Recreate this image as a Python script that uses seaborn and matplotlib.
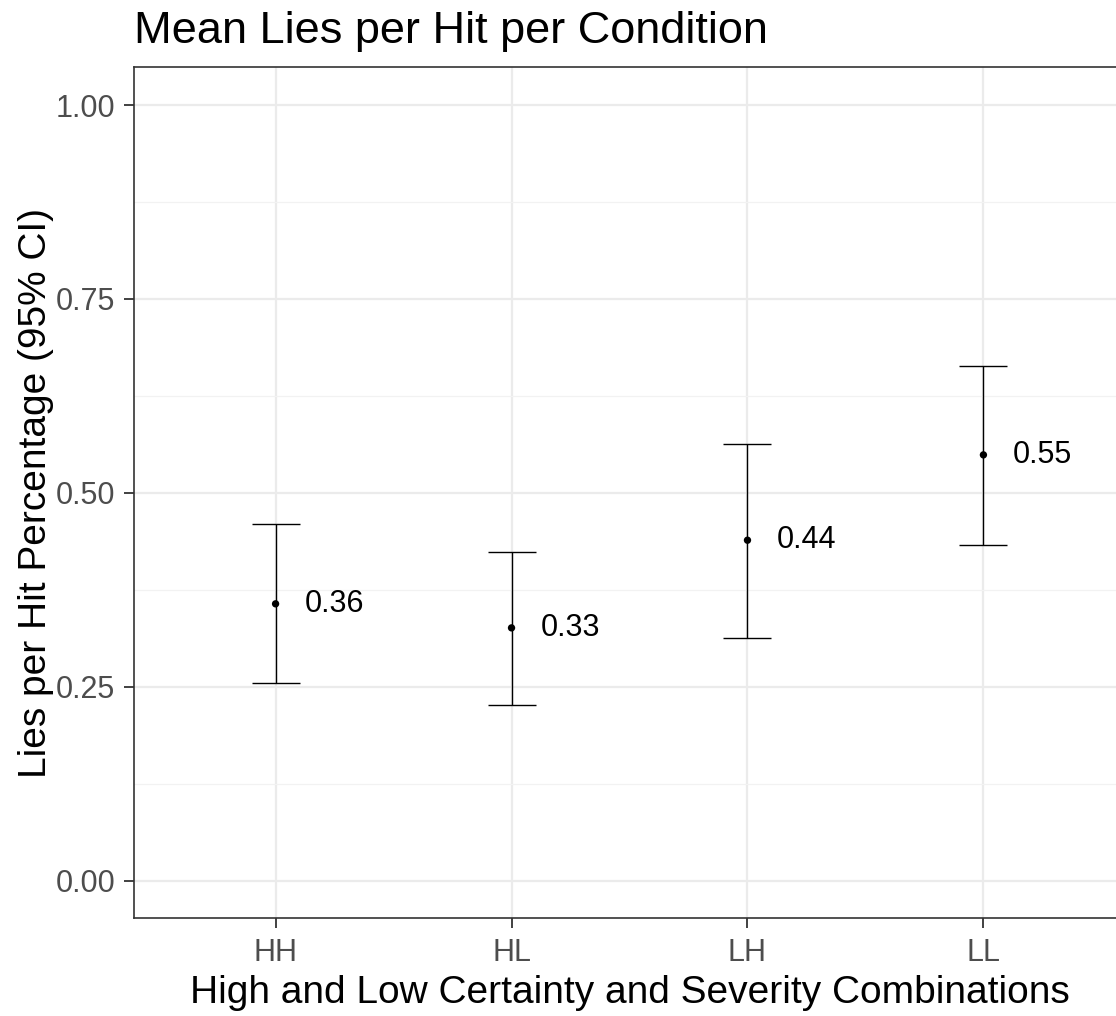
import matplotlib
matplotlib.use("Agg")
import matplotlib.pyplot as plt
import seaborn as sns
import pandas as pd

conditions = ["HH", "HL", "LH", "LL"]
means = [0.357, 0.326, 0.439, 0.549]
ci_low = [0.255, 0.226, 0.313, 0.433]
ci_high = [0.460, 0.424, 0.563, 0.664]
labels = ["0.36", "0.33", "0.44", "0.55"]

df = pd.DataFrame({"cond": conditions, "mean": means, "lo": ci_low, "hi": ci_high, "lab": labels})

sns.set_theme(style="white")
plt.rcParams['font.family'] = ['Liberation Sans', 'DejaVu Sans']

W, H = 1116, 1016
fig = plt.figure(figsize=(W / 100, H / 100), dpi=100)
ax = fig.add_axes([134 / W, 1 - 918 / H, (1125 - 134) / W, (918 - 67) / H])

grid_major = "#EBEBEB"
ax.set_axisbelow(True)

sns.scatterplot(data=df, x="cond", y="mean", ax=ax, color="black", s=28, zorder=3, edgecolor="none")
xpos = list(range(len(df)))
ax.errorbar(xpos, df["mean"],
            yerr=[df["mean"] - df["lo"], df["hi"] - df["mean"]],
            fmt="none", ecolor="black", elinewidth=1.0, capsize=17, capthick=1.0, zorder=2)
for x, y, t in zip(xpos, df["mean"], df["lab"]):
    ax.text(x + 0.125, y, t, ha="left", va="center", fontsize=22, color="black")

ax.set_xlim(-0.6, 3.6)
ax.set_ylim(-0.048, 1.049)
ax.set_yticks([0, 0.25, 0.5, 0.75, 1.0])
ax.set_yticklabels(["0.00", "0.25", "0.50", "0.75", "1.00"])
ax.set_yticks([0.125, 0.375, 0.625, 0.875], minor=True)

ax.grid(True, which="major", color=grid_major, linewidth=1.6)
ax.grid(True, which="minor", axis="y", color="#F2F2F2", linewidth=0.9)

for s in ax.spines.values():
    s.set_color("#333333")
    s.set_linewidth(1.2)

ax.tick_params(axis="both", which="major", length=7.5, width=1.3, color="#333333",
               labelsize=22, labelcolor="#4D4D4D", left=True, bottom=True)
ax.tick_params(axis="y", which="major", pad=6)
ax.tick_params(axis="x", which="major", pad=7)
ax.tick_params(axis="y", which="minor", length=0)

ax.set_xlabel("High and Low Certainty and Severity Combinations", fontsize=28, color="black", labelpad=5)
ax.set_ylabel("Lies per Hit Percentage (95% CI)", fontsize=28, color="black", labelpad=1)
ax.set_title("Mean Lies per Hit per Condition", fontsize=32.5, loc="left", color="black", pad=17)

fig.savefig("out.png", dpi=100)
